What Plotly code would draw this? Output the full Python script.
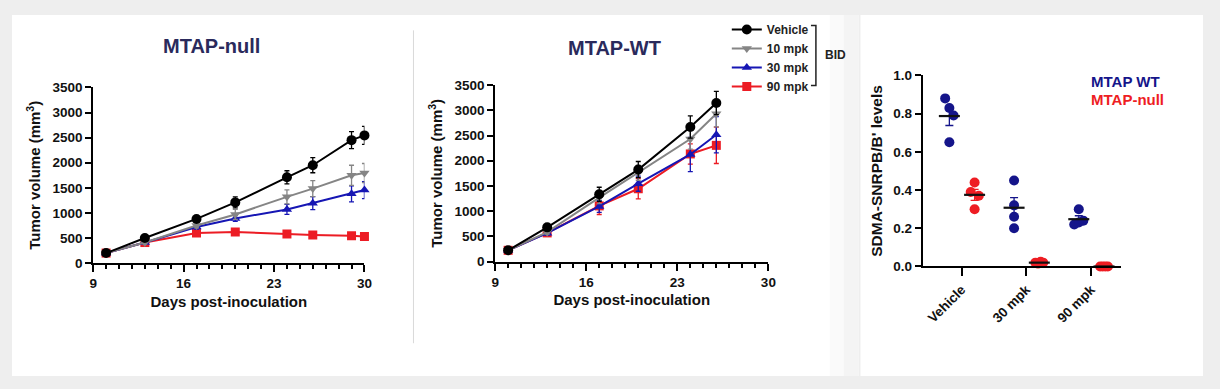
import plotly.graph_objects as go
import numpy as np

# page is 1220x389; the browser's default 8px body margin surrounds the figure
PAGE_W, PAGE_H = 1220, 389
OFF = 8
W, H = PAGE_W - 2 * OFF, PAGE_H - 2 * OFF
FONT = "Arial, Liberation Sans, sans-serif"

# ---------------- data ----------------
treatments = ["Vehicle", "10 mpk", "30 mpk", "90 mpk"]

null_days = [10, 13, 17, 20, 24, 26, 29, 30]
null_vehicle = [200, 500, 880, 1210, 1710, 1950, 2450, 2545]
null_vehicle_err = [20, 30, 60, 110, 130, 150, 170, 180]
null_10 = [200, 410, 750, 970, 1320, 1485, 1750, 1795]
null_10_err = [20, 25, 50, 100, 140, 160, 200, 190]
null_30 = [200, 410, 720, 890, 1070, 1195, 1380, 1455]
null_30_err = [20, 25, 40, 60, 100, 130, 160, 170]
null_90 = [200, 410, 600, 620, 580, 560, 545, 530]
null_90_err = [15, 20, 30, 40, 30, 30, 30, 30]

wt_days = [10, 13, 17, 20, 24, 26]
wt_vehicle = [225, 680, 1335, 1825, 2670, 3145]
wt_vehicle_err = [20, 40, 140, 160, 220, 230]
wt_10 = [225, 585, 1270, 1760, 2430, 2930]
wt_10_err = [20, 40, 120, 150, 200, 260]
wt_30 = [225, 565, 1095, 1545, 2125, 2515]
wt_30_err = [20, 40, 120, 150, 340, 360]
wt_90 = [225, 570, 1105, 1445, 2135, 2305]
wt_90_err = [20, 40, 170, 200, 200, 360]

sdma_groups = ["Vehicle", "30 mpk", "90 mpk"]
sdma_wt = [[0.88, 0.83, 0.79, 0.65], [0.45, 0.32, 0.26, 0.20], [0.30, 0.24, 0.23, 0.22]]
sdma_null = [[0.44, 0.39, 0.37, 0.30], [0.02, 0.015, 0.025, 0.02], [0.0, 0.0, 0.0, 0.0]]

x_ticks = [9, 16, 23, 30]
y_ticks = [0, 500, 1000, 1500, 2000, 2500, 3000, 3500]
sdma_ticks = [0.0, 0.2, 0.4, 0.6, 0.8, 1.0]

# ---------------- styles ----------------
colors = {"Vehicle": "#000000", "10 mpk": "#858585", "30 mpk": "#1616b4", "90 mpk": "#ec1c24"}
symbols = {"Vehicle": "circle", "10 mpk": "triangle-down", "30 mpk": "triangle-up", "90 mpk": "square"}
msizes = {"Vehicle": 10, "10 mpk": 9, "30 mpk": 9, "90 mpk": 9}
WT_COL = "#15158a"
NULL_COL = "#ee1d23"
TITLE_COL = "#2a2a5c"
BG = "#eeeeee"
wt_offset, null_offset = -0.19, 0.2
wt_jitter = [[-0.065, 0.0, 0.065, 0.0], [0, 0, 0, 0], [0.0, 0.07, 0.0, -0.07]]
null_jitter = [[0.0, -0.06, 0.065, 0.0], [-0.06, -0.02, 0.02, 0.06], [-0.06, -0.02, 0.02, 0.06]]


def fx(a):
    return (a - OFF) / W


def fy(a):
    return 1 - (a - OFF) / H


def px_x(a, b):
    return [fx(a), fx(b)]


def px_y(top, bottom):
    return [fy(bottom), fy(top)]


fig = go.Figure()

null_series = {"Vehicle": (null_vehicle, null_vehicle_err), "10 mpk": (null_10, null_10_err),
               "30 mpk": (null_30, null_30_err), "90 mpk": (null_90, null_90_err)}
wt_series = {"Vehicle": (wt_vehicle, wt_vehicle_err), "10 mpk": (wt_10, wt_10_err),
             "30 mpk": (wt_30, wt_30_err), "90 mpk": (wt_90, wt_90_err)}

draw_order = ["90 mpk", "30 mpk", "10 mpk", "Vehicle"]
for panel, (days, series, xa, ya) in enumerate([(null_days, null_series, "x", "y"),
                                                  (wt_days, wt_series, "x2", "y2")]):
    for t in draw_order:
        vals, err = series[t]
        fig.add_trace(go.Scatter(
            x=days, y=vals, xaxis=xa, yaxis=ya, mode="lines+markers", name=t,
            legendrank=treatments.index(t) + 1, showlegend=(panel == 1),
            line=dict(color=colors[t], width=2),
            marker=dict(symbol=symbols[t], size=msizes[t], color=colors[t]),
            error_y=dict(type="data", array=err, color=colors[t], thickness=1.3, width=2.5),
            cliponaxis=False,
        ))

# SDMA panel
for gi, g in enumerate(sdma_groups):
    fig.add_trace(go.Scatter(
        x=[gi + wt_offset + j for j in wt_jitter[gi]], y=sdma_wt[gi], xaxis="x3", yaxis="y3",
        mode="markers", showlegend=False, marker=dict(size=10, color=WT_COL), cliponaxis=False))
    fig.add_trace(go.Scatter(
        x=[gi + null_offset + j for j in null_jitter[gi]], y=sdma_null[gi], xaxis="x3", yaxis="y3",
        mode="markers", showlegend=False, marker=dict(size=10, color=NULL_COL), cliponaxis=False))

for vals, off, col in [(sdma_wt, wt_offset, WT_COL), (sdma_null, null_offset, NULL_COL)]:
    means = [float(np.mean(v)) for v in vals]
    sems = [float(np.std(v, ddof=1) / np.sqrt(len(v))) for v in vals]
    fig.add_trace(go.Scatter(
        x=[i + off for i in range(len(vals))], y=means, xaxis="x3", yaxis="y3", mode="markers",
        showlegend=False,
        marker=dict(symbol="line-ew", size=15, line=dict(color="#111111", width=2.2)),
        error_y=dict(type="data", array=sems, color=col, thickness=1.3, width=4),
        cliponaxis=False))

axis_common = dict(showline=True, linecolor="black", linewidth=2, ticks="outside", tickwidth=2,
                   tickcolor="black", showgrid=False, zeroline=False,
                   tickfont=dict(family=FONT, size=13.5, color="#111111", weight="bold"),
                   title_font=dict(family=FONT, size=15, color="#111111", weight="bold"))

xa_common = dict(axis_common, range=[9, 30], tickvals=x_ticks, ticklen=7,
                 minor=dict(dtick=1, tick0=9, ticks="outside", ticklen=4, tickwidth=1.5, tickcolor="black"),
                 title_text="Days post-inoculation", title_standoff=6)
ya_common = dict(axis_common, range=[0, 3500], tickvals=y_ticks, ticklen=6,
                 title_text="Tumor volume (mm<sup>3</sup>)", title_standoff=8)

fig.update_layout(
    width=W, height=H, margin=dict(l=0, r=0, t=0, b=0),
    paper_bgcolor=BG, plot_bgcolor="rgba(0,0,0,0)",
    xaxis=dict(xa_common, domain=px_x(90, 364), anchor="y"),
    yaxis=dict(ya_common, domain=px_y(83.5, 266.5), anchor="x"),
    xaxis2=dict(xa_common, domain=px_x(496, 772), anchor="y2"),
    yaxis2=dict(ya_common, domain=px_y(81, 265), anchor="x2"),
    xaxis3=dict(axis_common, domain=px_x(928, 1128), anchor="y3", range=[-0.6, 2.46],
                tickvals=[0, 1, 2], ticktext=sdma_groups, tickangle=-45, ticklen=8),
    yaxis3=dict(axis_common, domain=px_y(71, 270), anchor="x3", range=[0, 1],
                tickvals=sdma_ticks, ticktext=[f"{v:.1f}" for v in sdma_ticks], ticklen=6,
                title_text="SDMA-SNRPB/B' levels", title_standoff=7,
                title_font=dict(family=FONT, size=15.5, color="#111111", weight="bold")),
    legend=dict(x=fx(730), y=fy(8), xanchor="left", yanchor="top",
                font=dict(family=FONT, size=12, color="#222222", weight="bold"),
                bgcolor="rgba(0,0,0,0)", tracegroupgap=0, itemwidth=30),
    showlegend=True,
)

shapes = [
    dict(type="rect", xref="paper", yref="paper", x0=fx(8), x1=fx(863), y0=fy(384), y1=fy(8),
         fillcolor="white", line=dict(width=0), layer="below"),
    dict(type="rect", xref="paper", yref="paper", x0=fx(834), x1=fx(848), y0=fy(384), y1=fy(8),
         fillcolor="#fafafa", line=dict(width=0), layer="below"),
    dict(type="rect", xref="paper", yref="paper", x0=fx(848), x1=fx(863), y0=fy(384), y1=fy(8),
         fillcolor="#f4f4f4", line=dict(width=0), layer="below"),
    dict(type="rect", xref="paper", yref="paper", x0=fx(865), x1=fx(1211), y0=fy(384), y1=fy(8),
         fillcolor="white", line=dict(width=0), layer="below"),
    dict(type="line", xref="paper", yref="paper", x0=fx(413.5), x1=fx(413.5), y0=fy(350), y1=fy(24),
         line=dict(color="#d9d9d9", width=1)),
    dict(type="path", xref="paper", yref="paper",
         path=f"M {fx(815)},{fy(19)} L {fx(820)},{fy(19)} L {fx(820)},{fy(81.5)} L {fx(815)},{fy(81.5)}",
         line=dict(color="#222222", width=1.5)),
]


def ann(text, x, y, size, color, xanchor="center"):
    return dict(text=text, x=fx(x), y=fy(y), xref="paper", yref="paper", showarrow=False,
                xanchor=xanchor, yanchor="middle",
                font=dict(family=FONT, size=size, color=color, weight="bold"))


annotations = [
    ann("MTAP-null", 210, 40, 20, TITLE_COL),
    ann("MTAP-WT", 617, 42, 20, TITLE_COL),
    ann("BID", 840, 50, 12, "#222222"),
    ann("MTAP WT", 1096, 77, 15, WT_COL, "left"),
    ann("MTAP-null", 1096, 96, 15, NULL_COL, "left"),
]
fig.update_layout(shapes=shapes, annotations=annotations)

fig.write_html("out.html", config={"displayModeBar": False},
               post_script="document.body.style.background='#eeeeee';")
